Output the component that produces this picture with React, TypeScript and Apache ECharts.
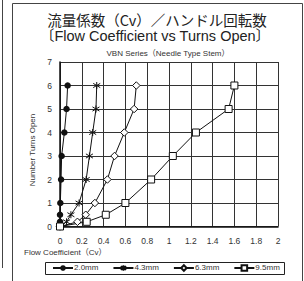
import React, { useEffect, useRef } from "react";
import * as echarts from "echarts";

const turns = [0, 0.2, 0.5, 1, 2, 3, 4, 5, 6];
const cv20 = [0, 0, 0, 0.003, 0.01, 0.015, 0.04, 0.06, 0.07];
const cv43 = [0, 0.06, 0.1, 0.175, 0.24, 0.27, 0.3, 0.33, 0.337];
const cv63 = [0, 0.16, 0.236, 0.32, 0.435, 0.5, 0.59, 0.68, 0.7];
const cv95 = [0, 0.245, 0.42, 0.6, 0.836, 1.035, 1.247, 1.547, 1.6];
const seriesNames = ["2.0mm", "4.3mm", "6.3mm", "9.5mm"];

const titleLine1 = "流量係数（Cv）／ハンドル回転数";
const titleLine2 = "〔Flow Coefficient vs Turns Open〕";
const subTitle = "VBN Series（Needle Type Stem）";
const yName = "Number Turns Open";
const xName = "Flow Coefficient（Cv）";

const FONT = "'Liberation Sans', Arial, 'Noto Sans CJK JP', sans-serif";
const CJK = "'Noto Sans CJK JP', 'Liberation Sans', sans-serif";
const asterisk = "path://M5,0L5,10M0,2L10,8M0,8L10,2";

export default function App() {
  const ref = useRef<HTMLDivElement>(null);
  useEffect(() => {
    document.body.style.margin = "0";
    const chart = echarts.init(ref.current!, null, { renderer: "svg" });
    const pairs = (xs: number[]) => xs.map((x, i) => [x, turns[i]]);
    const lineStyle = { color: "#111", width: 1 };
    chart.setOption({
      animation: false,
      backgroundColor: "#fff",
      textStyle: { fontFamily: FONT },
      grid: { left: 60, top: 62, width: 218, height: 164.5, containLabel: false },
      xAxis: {
        type: "value",
        min: 0,
        max: 2,
        interval: 0.2,
        axisLine: { show: true, lineStyle: { color: "#111", width: 1.5 } },
        axisTick: { show: false },
        axisLabel: { color: "#333", fontSize: 8.5, margin: 10, fontFamily: FONT },
        splitLine: { show: true, lineStyle: { color: "#333", width: 1 } },
      },
      yAxis: {
        type: "value",
        min: 0,
        max: 7,
        interval: 1,
        axisLine: { show: true, lineStyle: { color: "#111", width: 1.5 } },
        axisTick: { show: false },
        axisLabel: { color: "#333", fontSize: 8.5, margin: 8, fontFamily: FONT },
        splitLine: { show: true, lineStyle: { color: "#333", width: 1 } },
      },
      legend: {
        left: 52,
        top: 264,
        width: 240,
        itemWidth: 20,
        itemHeight: 7,
        itemGap: 14,
        padding: 0,
        textStyle: { fontSize: 8, color: "#333", fontFamily: FONT, padding: [0, 0, 0, -4] },
        data: seriesNames,
      },
      series: [
        {
          name: seriesNames[0],
          type: "line",
          data: pairs(cv20),
          symbol: "circle",
          symbolSize: 6.5,
          lineStyle,
          itemStyle: { color: "#111" },
        },
        {
          name: seriesNames[1],
          type: "line",
          data: pairs(cv43),
          symbol: asterisk,
          symbolSize: 7,
          lineStyle,
          itemStyle: { color: "#111", borderColor: "#111", borderWidth: 1 },
        },
        {
          name: seriesNames[2],
          type: "line",
          data: pairs(cv63),
          symbol: "diamond",
          symbolSize: 7.5,
          lineStyle,
          itemStyle: { color: "#fff", borderColor: "#111", borderWidth: 1 },
        },
        {
          name: seriesNames[3],
          type: "line",
          data: pairs(cv95),
          symbol: "rect",
          symbolSize: 7,
          lineStyle,
          itemStyle: { color: "#fff", borderColor: "#111", borderWidth: 1 },
        },
      ],
      graphic: [
        { type: "line", shape: { x1: 2.5, y1: 0, x2: 2.5, y2: 268 }, style: { stroke: "#444", lineWidth: 1 } },
        { type: "rect", shape: { x: 12.5, y: 3.5, width: 290, height: 290 }, style: { fill: "none", stroke: "#444", lineWidth: 1 } },
        { type: "rect", shape: { x: 45.5, y: 262.5, width: 239, height: 12 }, style: { fill: "none", stroke: "#222", lineWidth: 1 } },
        {
          type: "text", x: 157, y: 19,
          style: { text: titleLine1, fontSize: 14.5, fontFamily: CJK, fill: "#222", textAlign: "center", textVerticalAlign: "middle" },
        },
        {
          type: "text", x: 155, y: 36,
          style: { text: titleLine2, fontSize: 14.5, fontFamily: FONT, fill: "#222", textAlign: "center", textVerticalAlign: "middle" },
        },
        {
          type: "text", x: 168, y: 53,
          style: { text: subTitle, fontSize: 8, fontFamily: FONT, fill: "#333", textAlign: "center", textVerticalAlign: "middle" },
        },
        {
          type: "text", x: 32, y: 150, rotation: Math.PI / 2,
          style: { text: yName, fontSize: 8, fontFamily: FONT, fill: "#333", textAlign: "center", textVerticalAlign: "middle" },
        },
        {
          type: "text", x: 24, y: 252,
          style: { text: xName, fontSize: 8, fontFamily: FONT, fill: "#333", textAlign: "left", textVerticalAlign: "middle" },
        },
      ],
    });
    return () => chart.dispose();
  }, []);
  return <div ref={ref} style={{ width: 304, height: 281, position: "absolute", left: 0, top: 0 }} />;
}
